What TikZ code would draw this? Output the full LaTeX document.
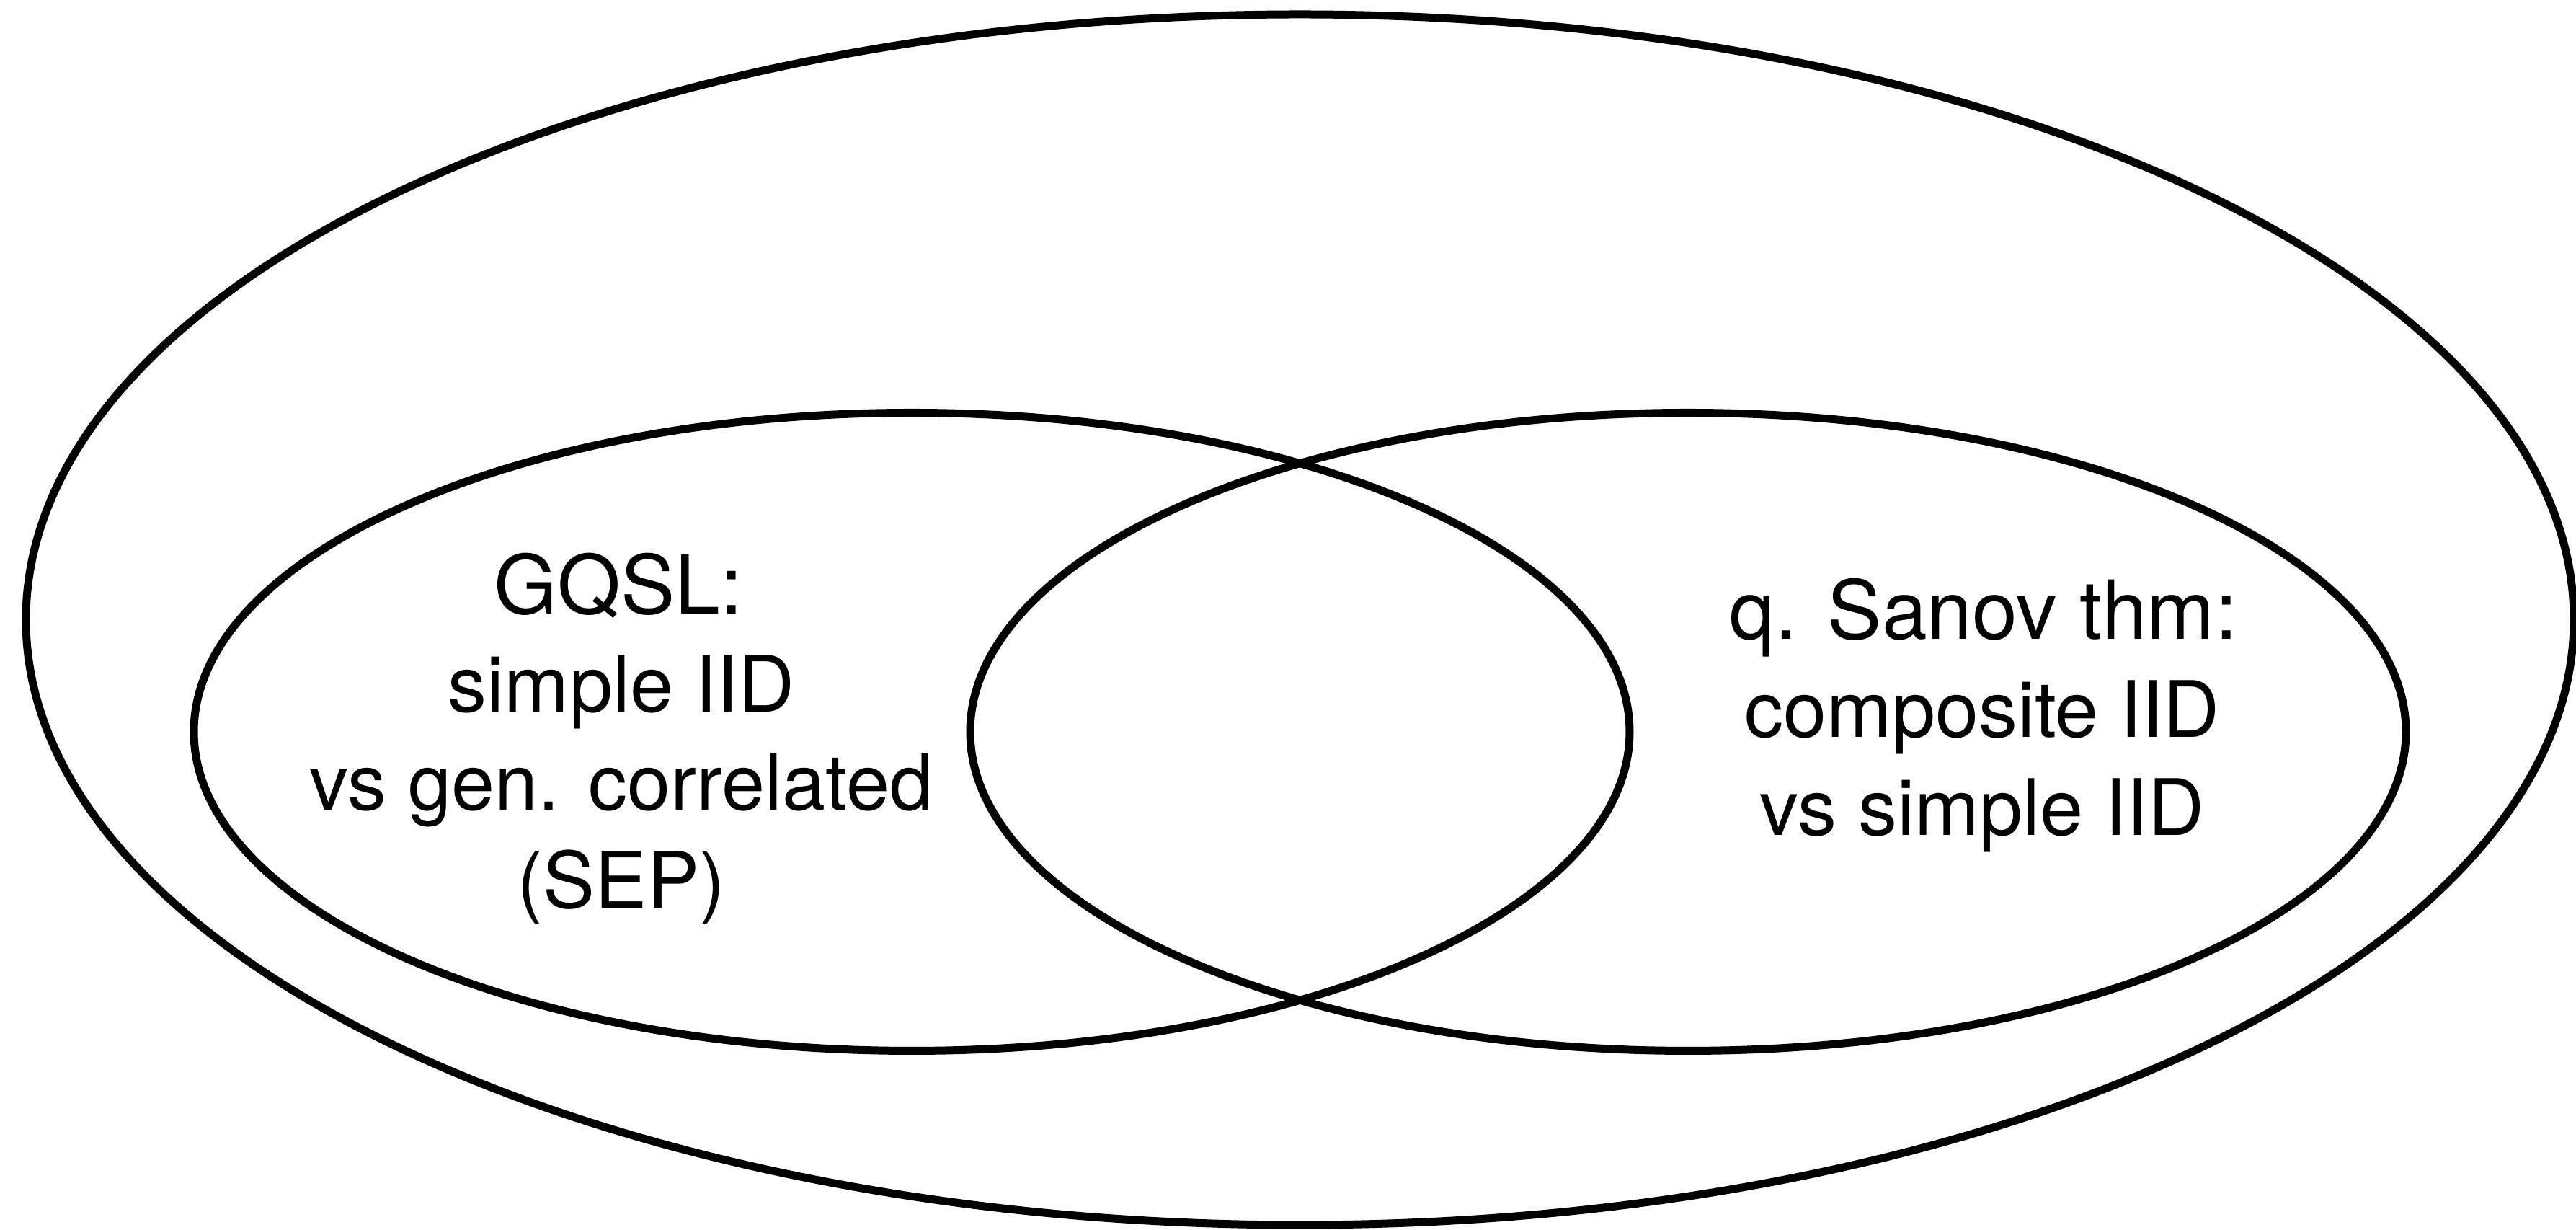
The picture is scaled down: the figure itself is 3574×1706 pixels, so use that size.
\documentclass[tikz,border=0pt]{standalone}
\usepackage{fontspec}
\setmainfont{TeX Gyre Heros}
\begin{document}
\begin{tikzpicture}[x=0.1pt,y=-0.1pt,
  setline/.style={line width=1.1pt, draw=black},
  head/.style={anchor=base, inner sep=0pt, font=\fontsize{11.3}{13.6}\selectfont},
  body/.style={anchor=base, inner sep=0pt, font=\fontsize{10.8}{13.6}\selectfont}]
  \useasboundingbox (0,0) rectangle (3574,1706);

  % universe and the two overlapping classes
  \draw[setline] (1803.5,859.5) ellipse [x radius=1767.5, y radius=839.5];
  \draw[setline] (1265,1015) ellipse [x radius=996, y radius=442.5];
  \draw[setline] (2342,1015) ellipse [x radius=996, y radius=442.5];

  % left class
  \node[head] (gqsl)  at (858,852)  {GQSL:};
  \node[body] (gq1)   at (862,988)  {simple IID};
  \node[body] (gq2)   at (862,1124) {vs gen. correlated};
  \node[body] (gq3)   at (862,1260) {(SEP)};

  % right class
  \node[head] (sanov) at (2752,887)  {q. Sanov thm:};
  \node[body] (sa1)   at (2750,1023) {composite IID};
  \node[body] (sa2)   at (2750,1159) {vs simple IID};
\end{tikzpicture}
\end{document}
